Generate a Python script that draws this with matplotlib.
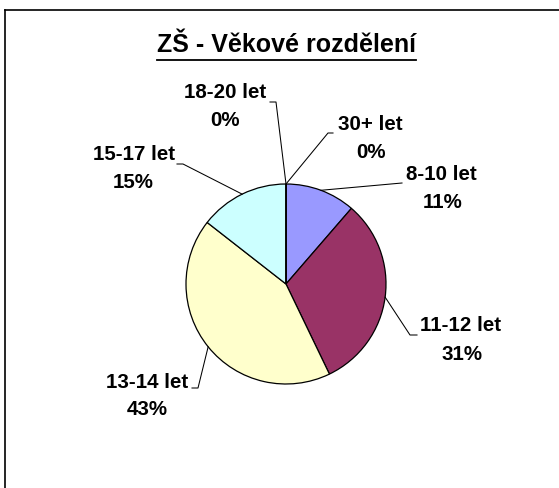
import matplotlib
matplotlib.use("Agg")
import matplotlib.pyplot as plt
import numpy as np
from matplotlib.lines import Line2D

# ---- data ----
categories = ["8-10 let", "11-12 let", "13-14 let", "15-17 let", "18-20 let", "30+ let"]
shares = [11.35, 31.5, 42.7, 14.45, 0.0, 0.0]
pct_labels = ["11%", "31%", "43%", "15%", "0%", "0%"]
colors = ["#9999FF", "#993366", "#FFFFCC", "#CCFFFF", "#FFFFFF", "#FFFFFF"]
title = "ZŠ - Věkové rozdělení"

W, H = 559, 488
fig = plt.figure(figsize=(W / 100, H / 100), dpi=100)
ax = fig.add_axes([0, 0, 1, 1])

def Y(y):  # pixel-from-top -> data
    return H - y

cx, cy, R = 286, Y(284), 100
ax.pie(shares, colors=colors, startangle=90, counterclock=False,
       center=(cx, cy), radius=R, frame=True,
       wedgeprops=dict(edgecolor="black", linewidth=0.9))
ax.set_xlim(0, W)
ax.set_ylim(0, H)
ax.set_axis_off()

FONT = "Liberation Sans"

# label layout: (line1 center x, line1 baseline, line2 center x, line2 baseline, elbow pts)
layout = [
    (441, 180, 443, 207.5, [(402, 183)]),
    (461, 331, 461.5, 360.5, [(410, 335), (417, 335)]),
    (147, 387.5, 147.5, 415, [(198, 388), (192, 388)]),
    (134, 160, 133, 187.5, [(183, 164), (177, 164)]),
    (225, 97.5, 225, 126, [(276, 102), (270, 102)]),
    (370.5, 129.5, 371, 157.5, [(328, 133), (333, 133)]),
]

total = sum(shares)
cum = 0.0
for i, (cat, val) in enumerate(zip(categories, shares)):
    mid = cum + val / 2
    cum += val
    ang = np.deg2rad(90 - 360 * mid / total)
    ax0 = cx + R * np.cos(ang)
    ay0 = cy + R * np.sin(ang)
    x1, b1, x2, b2, elbow = layout[i]
    xs = [ax0] + [p[0] for p in elbow]
    ys = [ay0] + [Y(p[1]) for p in elbow]
    ax.add_line(Line2D(xs, ys, color="black", lw=0.75))
    ax.text(x1, Y(b1), cat, ha="center", va="baseline", fontsize=14.8,
            fontweight="bold", family=FONT)
    ax.text(x2, Y(b2), pct_labels[i], ha="center", va="baseline", fontsize=14.8,
            fontweight="bold", family=FONT)

t = ax.text(286.5, Y(51.5), title, ha="center", va="baseline", fontsize=18,
            fontweight="bold", family=FONT)
fig.canvas.draw()
bb = t.get_window_extent(fig.canvas.get_renderer())
ax.add_line(Line2D([bb.x0, bb.x1], [Y(59.5), Y(59.5)], color="black", lw=1.3))

# outer border (only top and left edges fall inside the image)
ax.add_line(Line2D([4.5, 4.5], [-5, Y(9.5)], color="black", lw=1.2, clip_on=False))
ax.add_line(Line2D([4.5, W + 5], [Y(9.5), Y(9.5)], color="black", lw=1.2, clip_on=False))

fig.savefig("out.png", dpi=100)
